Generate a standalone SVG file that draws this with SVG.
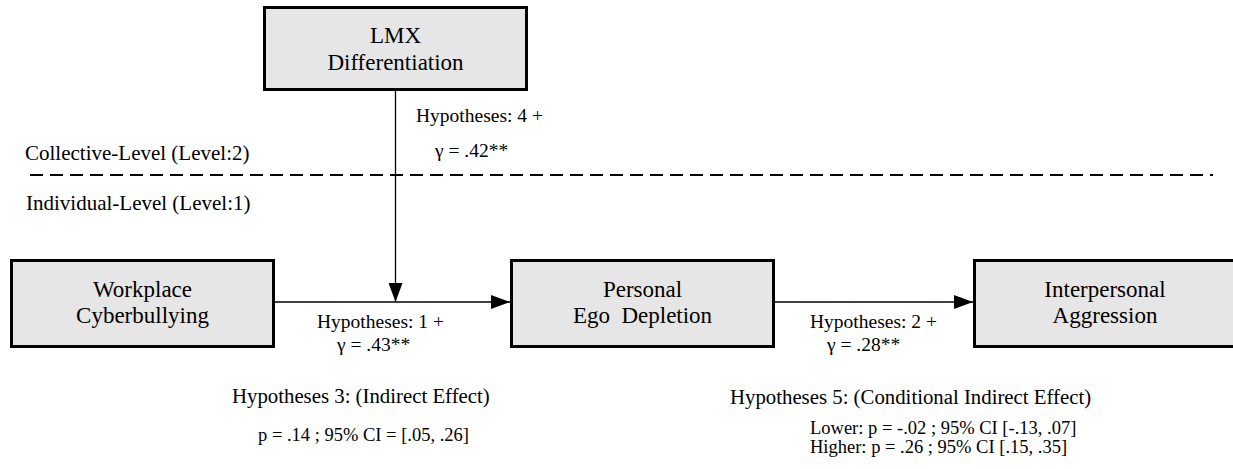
<svg xmlns="http://www.w3.org/2000/svg" width="1233" height="469" viewBox="0 0 1233 469">
<style>
text { font-family: "Liberation Serif", "Times New Roman", serif; fill: #000; }
.box { fill: #e6e6e6; stroke: #000; stroke-width: 3; }
.bt { font-size: 23px; text-anchor: middle; }
.hy { font-size: 19.5px; }
.lv { font-size: 21px; }
.ef { font-size: 20.8px; }
.st { font-size: 18.5px; }
.conn { stroke: #000; stroke-width: 1.3; fill: none; }
.dash { stroke: #000; stroke-width: 2; stroke-dasharray: 13 7; fill: none; }
</style>
<defs>
<marker id="arr" markerUnits="userSpaceOnUse" markerWidth="19" markerHeight="14" refX="19" refY="7" orient="auto">
<path d="M0,0 L19,7 L0,14 z" fill="#000"/>
</marker>
</defs>
<rect width="1233" height="469" fill="#fff"/>

<line class="dash" x1="30" y1="175" x2="1213" y2="175"/>
<text class="lv" x="25" y="160">Collective-Level (Level:2)</text>
<text class="lv" x="26" y="210">Individual-Level (Level:1)</text>

<g id="connectors">
<line class="conn" x1="395.5" y1="91" x2="395.5" y2="302" marker-end="url(#arr)"/>
<line class="conn" x1="275" y1="302" x2="510" y2="302" marker-end="url(#arr)"/>
<line class="conn" x1="774" y1="302" x2="973" y2="302" marker-end="url(#arr)"/>
<text class="hy" x="416" y="122">Hypotheses: 4 +</text>
<text class="hy" x="435" y="157">γ = .42**</text>
<text class="hy" x="317" y="328">Hypotheses: 1 +</text>
<text class="hy" x="337" y="351">γ = .43**</text>
<text class="hy" x="810" y="328">Hypotheses: 2 +</text>
<text class="hy" x="827" y="351">γ = .28**</text>
</g>

<g id="lmx">
<rect class="box" x="264.5" y="7.5" width="262" height="82"/>
<text class="bt" x="395.5" y="43">LMX</text>
<text class="bt" x="395.5" y="70">Differentiation</text>
</g>

<g id="workplace">
<rect class="box" x="11.5" y="260.5" width="262" height="86"/>
<text class="bt" x="142.5" y="297">Workplace</text>
<text class="bt" x="142.5" y="323">Cyberbullying</text>
</g>

<g id="personal">
<rect class="box" x="511.5" y="260.5" width="262" height="86"/>
<text class="bt" x="642.5" y="297">Personal</text>
<text class="bt" x="642.5" y="323" xml:space="preserve">Ego  Depletion</text>
</g>

<g id="interpersonal">
<rect class="box" x="974.5" y="260.5" width="262" height="86"/>
<text class="bt" x="1105" y="297">Interpersonal</text>
<text class="bt" x="1105" y="323">Aggression</text>
</g>

<g id="h3">
<text class="ef" x="232" y="403">Hypotheses 3: (Indirect Effect)</text>
<text class="st" x="258" y="441">p = .14 ; 95% CI = [.05, .26]</text>
</g>

<g id="h5">
<text class="ef" x="730" y="404">Hypotheses 5: (Conditional Indirect Effect)</text>
<text class="st" x="810" y="434">Lower: p = -.02 ; 95% CI [-.13, .07]</text>
<text class="st" x="810" y="453">Higher: p = .26 ; 95% CI [.15, .35]</text>
</g>
</svg>
